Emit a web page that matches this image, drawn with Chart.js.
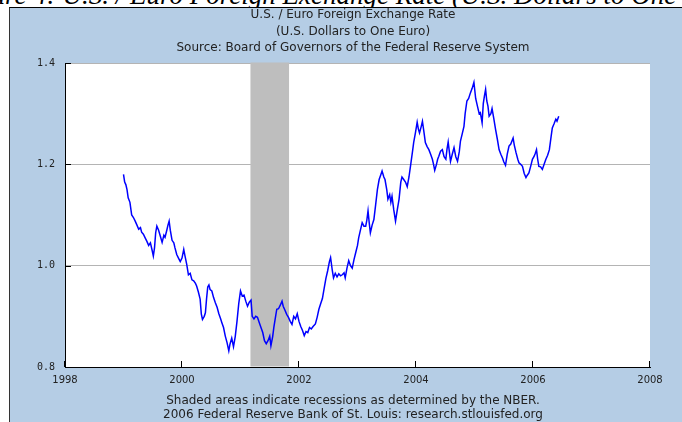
<!DOCTYPE html>
<html>
<head>
<meta charset="utf-8">
<script src="https://cdn.jsdelivr.net/npm/chart.js@4.4.1/dist/chart.umd.min.js"></script>
<style>
  html, body { margin: 0; padding: 0; background: #fff; }
  #wrap { position: relative; width: 682px; height: 422px; overflow: hidden; }
  #caption { position: absolute; left: -46px; top: -19px; font: italic 27px/28px "Liberation Serif", serif; white-space: nowrap; color: #000; }
  #panel { position: absolute; left: 9px; top: 7px; right: 0; bottom: 0; background: #b5cde5; border-left: 1px solid #333; border-top: 1px solid #000; }
  #chart { position: absolute; left: 0; top: 0; }
</style>
</head>
<body>
<div id="wrap">
  <div id="caption">Figure 4: U.S. / Euro Foreign Exchange Rate (U.S. Dollars to One Euro)</div>
  <div id="panel"></div>
  <canvas id="chart" width="682" height="422"></canvas>
</div>
<script>
// decimal years
const dates = [
  1999.00, 1999.02, 1999.04, 1999.06, 1999.08, 1999.11, 1999.14, 1999.17, 1999.20, 1999.23, 1999.26, 1999.29, 1999.31,
  1999.34, 1999.37, 1999.40, 1999.43, 1999.46, 1999.49, 1999.51, 1999.53, 1999.55, 1999.57, 1999.60, 1999.63, 1999.66,
  1999.69, 1999.71, 1999.74, 1999.76, 1999.78, 1999.80, 1999.83, 1999.86, 1999.88, 1999.91, 1999.94, 1999.97,
  2000.00, 2000.03, 2000.05, 2000.08, 2000.11, 2000.14, 2000.17, 2000.20, 2000.23, 2000.25, 2000.28, 2000.31, 2000.33,
  2000.35, 2000.38, 2000.40, 2000.42, 2000.44, 2000.46, 2000.48, 2000.51, 2000.54, 2000.57, 2000.60, 2000.63, 2000.66,
  2000.68, 2000.71, 2000.74, 2000.77, 2000.80, 2000.82, 2000.85, 2000.88, 2000.91, 2000.94, 2000.97,
  2001.00, 2001.03, 2001.06, 2001.09, 2001.12, 2001.15, 2001.18, 2001.20, 2001.23, 2001.26, 2001.29, 2001.32, 2001.35,
  2001.38, 2001.41, 2001.44, 2001.47, 2001.50, 2001.52, 2001.55, 2001.57, 2001.60, 2001.62, 2001.65, 2001.68, 2001.71,
  2001.73, 2001.76, 2001.79, 2001.82, 2001.85, 2001.88, 2001.91, 2001.94, 2001.97,
  2002.00, 2002.03, 2002.06, 2002.09, 2002.12, 2002.15, 2002.18, 2002.21, 2002.24, 2002.28, 2002.31, 2002.34, 2002.37,
  2002.40, 2002.43, 2002.46, 2002.49, 2002.52, 2002.54, 2002.57, 2002.59, 2002.62, 2002.65, 2002.68, 2002.71, 2002.74,
  2002.77, 2002.79, 2002.82, 2002.85, 2002.88, 2002.91, 2002.94, 2002.97,
  2003.00, 2003.02, 2003.05, 2003.08, 2003.11, 2003.14, 2003.16, 2003.18, 2003.20, 2003.22, 2003.25, 2003.28, 2003.31,
  2003.34, 2003.37, 2003.40, 2003.42, 2003.45, 2003.47, 2003.50, 2003.52, 2003.55, 2003.57, 2003.59, 2003.62, 2003.65,
  2003.68, 2003.71, 2003.74, 2003.76, 2003.79, 2003.82, 2003.85, 2003.88, 2003.91, 2003.94, 2003.96, 2003.99,
  2004.02, 2004.04, 2004.06, 2004.09, 2004.11, 2004.14, 2004.16, 2004.19, 2004.22, 2004.25, 2004.28, 2004.30, 2004.32,
  2004.35, 2004.37, 2004.39, 2004.42, 2004.45, 2004.48, 2004.51, 2004.53, 2004.55, 2004.57, 2004.59, 2004.62, 2004.65,
  2004.68, 2004.71, 2004.74, 2004.76, 2004.79, 2004.82, 2004.84, 2004.87, 2004.90, 2004.93, 2004.96, 2004.99,
  2005.02, 2005.05, 2005.08, 2005.10, 2005.13, 2005.15, 2005.17, 2005.19, 2005.21, 2005.23, 2005.25, 2005.28, 2005.30,
  2005.33, 2005.36, 2005.39, 2005.42, 2005.45, 2005.48, 2005.50, 2005.53, 2005.56, 2005.59, 2005.62, 2005.66, 2005.68,
  2005.71, 2005.74, 2005.76, 2005.79, 2005.82, 2005.85, 2005.88, 2005.90, 2005.93, 2005.96, 2005.99,
  2006.02, 2006.04, 2006.06, 2006.08, 2006.10, 2006.13, 2006.16, 2006.19, 2006.22, 2006.25, 2006.28, 2006.31, 2006.33,
  2006.36, 2006.39, 2006.41, 2006.44
];

// U.S. dollars per euro
const rates = [
  1.180, 1.165, 1.160, 1.150, 1.134, 1.125, 1.100, 1.095, 1.088, 1.080, 1.072, 1.075, 1.066,
  1.062, 1.055, 1.048, 1.040, 1.045, 1.030, 1.019, 1.035, 1.065, 1.078, 1.070, 1.058, 1.046,
  1.060, 1.056, 1.070, 1.080, 1.088, 1.070, 1.050, 1.045, 1.035, 1.022, 1.015, 1.008,
  1.015, 1.032, 1.020, 1.003, 0.982, 0.985, 0.972, 0.970, 0.965, 0.960, 0.948, 0.934, 0.905,
  0.894, 0.900, 0.907, 0.935, 0.958, 0.962, 0.953, 0.950, 0.937, 0.927, 0.918, 0.905, 0.895,
  0.888, 0.878, 0.861, 0.848, 0.832, 0.845, 0.857, 0.840, 0.860, 0.890, 0.925,
  0.950, 0.940, 0.942, 0.930, 0.920, 0.928, 0.932, 0.900, 0.895, 0.900, 0.898, 0.888, 0.878,
  0.868, 0.852, 0.846, 0.852, 0.861, 0.842, 0.860, 0.878, 0.900, 0.914, 0.915, 0.922, 0.930,
  0.920, 0.912, 0.904, 0.898, 0.890, 0.884, 0.900, 0.895, 0.905,
  0.890, 0.880, 0.872, 0.862, 0.870, 0.868, 0.878, 0.875, 0.880, 0.885, 0.898, 0.914, 0.925,
  0.935, 0.955, 0.975, 0.990, 1.008, 1.016, 0.990, 0.976, 0.985, 0.978, 0.984, 0.980, 0.982,
  0.986, 0.976, 0.995, 1.010, 1.000, 0.995, 1.012, 1.026,
  1.040, 1.055, 1.070, 1.085, 1.078, 1.078, 1.090, 1.108, 1.085, 1.065, 1.080, 1.091, 1.120,
  1.150, 1.170, 1.180, 1.187, 1.175, 1.170, 1.150, 1.131, 1.140, 1.125, 1.137, 1.110, 1.088,
  1.110, 1.131, 1.165, 1.175, 1.170, 1.165, 1.156, 1.175, 1.200, 1.225, 1.243, 1.262,
  1.283, 1.270, 1.262, 1.275, 1.285, 1.260, 1.243, 1.235, 1.229, 1.220, 1.210, 1.200, 1.188,
  1.200, 1.210, 1.216, 1.226, 1.229, 1.215, 1.210, 1.230, 1.244, 1.225, 1.206, 1.220, 1.233,
  1.215, 1.206, 1.225, 1.246, 1.260, 1.275, 1.300, 1.325, 1.330, 1.341, 1.350, 1.362,
  1.330, 1.315, 1.300, 1.302, 1.282, 1.320, 1.335, 1.348, 1.325, 1.315, 1.295, 1.300, 1.310,
  1.290, 1.269, 1.250, 1.229, 1.220, 1.212, 1.205, 1.198, 1.220, 1.236, 1.240, 1.252, 1.238,
  1.223, 1.210, 1.203, 1.200, 1.196, 1.182, 1.174, 1.178, 1.183, 1.196, 1.210,
  1.216, 1.222, 1.229, 1.210, 1.196, 1.195, 1.190, 1.200, 1.210, 1.218, 1.229, 1.255, 1.272,
  1.280, 1.289, 1.285, 1.295
];

// NBER recession (Mar 2001 - Nov 2001)
const recessionStart = 2001.17;
const recessionEnd = 2001.83;

const xTicks = [1998, 2000, 2002, 2004, 2006, 2008];
const yTicks = [0.8, 1.0, 1.2, 1.4];

const titleLines = [
  "U.S. / Euro Foreign Exchange Rate",
  "(U.S. Dollars to One Euro)",
  "Source: Board of Governors of the Federal Reserve System"
];
const footerLines = [
  "Shaded areas indicate recessions as determined by the NBER.",
  "2006 Federal Reserve Bank of St. Louis: research.stlouisfed.org"
];

const points = [];
for (let i = 0; i < Math.min(dates.length, rates.length); i++) {
  points.push({ x: dates[i], y: rates[i] });
}

// white plot area, recession band, inward ticks and the panel texts
const fredLook = {
  id: "fredLook",
  beforeDraw(chart) {
    const { ctx, chartArea: a } = chart;
    ctx.save();
    ctx.fillStyle = "#ffffff";
    ctx.fillRect(a.left, a.top, a.right - a.left, a.bottom - a.top);
    ctx.restore();
  },
  beforeDatasetsDraw(chart) {
    const { ctx, chartArea: a, scales } = chart;
    const x0 = scales.x.getPixelForValue(recessionStart);
    const x1 = scales.x.getPixelForValue(recessionEnd);
    ctx.save();
    ctx.fillStyle = "#bebebe";
    ctx.fillRect(x0, a.top - 0.5, x1 - x0, a.bottom - a.top);
    ctx.restore();
  },
  afterDraw(chart) {
    const { ctx, chartArea: a, scales } = chart;
    ctx.save();
    ctx.strokeStyle = "#000";
    ctx.lineWidth = 1;
    ctx.beginPath();
    yTicks.forEach((v) => {
      const y = Math.round(scales.y.getPixelForValue(v)) + 0.5;
      ctx.moveTo(a.left, y);
      ctx.lineTo(a.left + 6, y);
    });
    xTicks.forEach((v) => {
      const x = Math.round(scales.x.getPixelForValue(v)) - 0.5;
      ctx.moveTo(x, a.bottom);
      ctx.lineTo(x, a.bottom - 6);
    });
    ctx.stroke();

    ctx.fillStyle = "#222";
    ctx.font = '12px "DejaVu Sans"';
    ctx.textAlign = "center";
    ctx.textBaseline = "middle";
    const cx = 353;
    titleLines.forEach((t, i) => ctx.fillText(t, cx, 15 + i * 16.5));
    footerLines.forEach((t, i) => ctx.fillText(t, cx, 401 + i * 14));
    ctx.restore();
  }
};

const ctx = document.getElementById("chart").getContext("2d");

new Chart(ctx, {
  type: "line",
  data: {
    datasets: [
      {
        data: points,
        borderColor: "#0000ff",
        borderWidth: 1.5,
        pointRadius: 0,
        tension: 0,
        fill: false
      }
    ]
  },
  options: {
    responsive: false,
    animation: false,
    devicePixelRatio: 1,
    layout: { padding: { top: 63, right: 32, left: 0, bottom: 0 } },
    plugins: {
      legend: { display: false },
      tooltip: { enabled: false }
    },
    scales: {
      x: {
        type: "linear",
        min: 1998,
        max: 2008,
        afterBuildTicks: (s) => { s.ticks = xTicks.map((v) => ({ value: v })); },
        afterFit: (s) => { s.height = 55; },
        ticks: {
          callback: (v) => String(v),
          color: "#222",
          font: { family: "DejaVu Sans", size: 10 },
          padding: 7,
          maxRotation: 0
        },
        grid: { display: false, drawTicks: false },
        border: { color: "#000", width: 1 }
      },
      y: {
        min: 0.8,
        max: 1.4,
        afterBuildTicks: (s) => { s.ticks = yTicks.map((v) => ({ value: v })); },
        afterFit: (s) => { s.width = 65; },
        ticks: {
          callback: (v) => v.toFixed(1),
          color: "#222",
          font: { family: "DejaVu Sans Mono", size: 10 },
          padding: 10
        },
        grid: { color: "#b4b4b4", drawTicks: false },
        border: { color: "#000", width: 1 }
      }
    }
  },
  plugins: [fredLook]
});
</script>
</body>
</html>
